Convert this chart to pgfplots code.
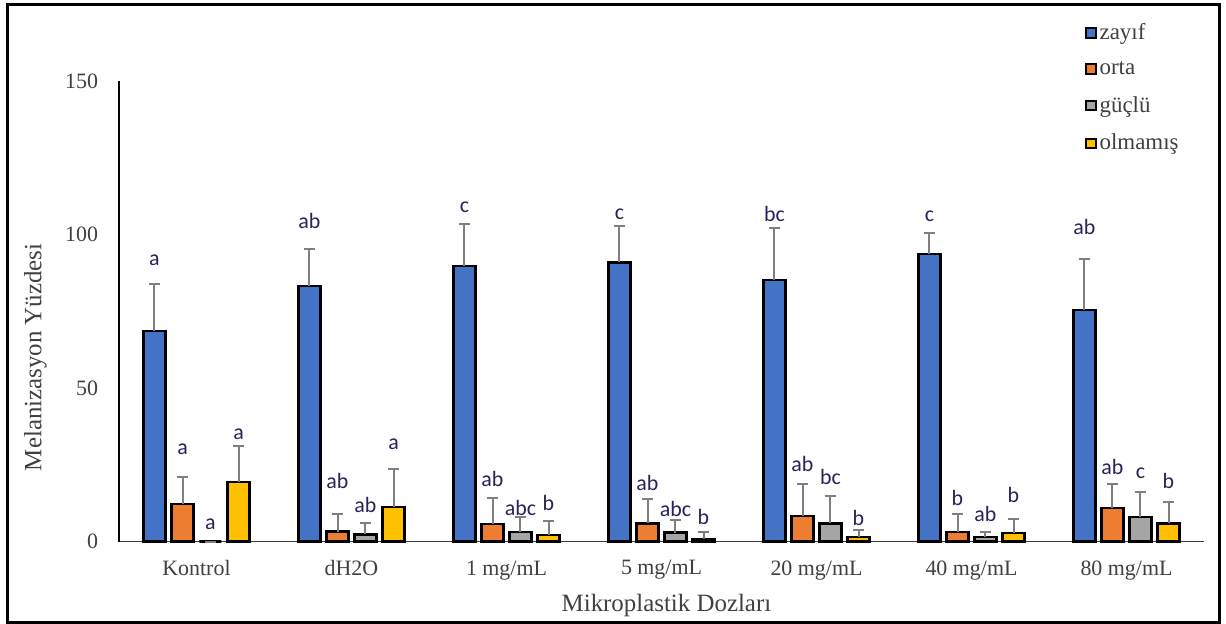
\documentclass[border=0pt]{standalone}
\usepackage{pgfplots}
\usepackage{pgfplotstable}
\pgfplotsset{compat=1.18}
\usepackage{fontspec}
\setmainfont{Liberation Serif}
\newfontfamily\calibri{Carlito}
\definecolor{cBlue}{RGB}{68,114,196}
\definecolor{cOrange}{RGB}{237,125,49}
\definecolor{cGray}{RGB}{165,165,165}
\definecolor{cYellow}{RGB}{255,192,0}
\definecolor{txt}{RGB}{64,64,64}
\definecolor{lett}{RGB}{40,35,90}
\definecolor{errc}{RGB}{127,127,127}

\pgfplotstableread{
x y err ly lbl
0 68.6 15.3 92.4 a
1 83.2 12.0 104.5 ab
2 89.7 13.6 109.7 c
3 90.9 11.9 107.2 c
4 85.2 16.8 106.6 bc
5 93.6 7.0 106.6 c
6 75.4 16.7 102.3 ab
}\zayif
\pgfplotstableread{
x y err ly lbl
0 12.2 8.7 30.7 a
1 3.2 5.8 19.8 ab
2 5.7 8.6 20.2 ab
3 5.9 7.9 19.0 ab
4 8.4 10.2 25.3 ab
5 3.0 5.9 14.2 b
6 11.0 7.6 24.4 ab
}\orta
\pgfplotstableread{
x y err ly lbl
0 0.0 0.0 6.3 a
1 2.3 3.6 12.0 ab
2 3.0 5.1 11.0 abc
3 2.9 4.1 10.7 abc
4 5.9 9.0 20.9 bc
5 1.4 1.8 9.0 ab
6 7.9 8.1 23.1 c
}\guclu
\pgfplotstableread{
x y err ly lbl
0 19.3 11.9 35.6 a
1 11.3 12.2 32.3 a
2 2.1 4.7 12.4 b
3 0.8 2.3 8.1 b
4 1.4 2.3 7.7 b
5 2.7 4.5 15.0 b
6 5.9 7.1 19.8 b
}\olmamis

\pgfplotsset{
  mybar/.style={ybar, bar width=11bp, mark=none, draw=black, line width=1.2bp},
  myerr/.style={draw=none, mark=none, forget plot,
    error bars/.cd, y dir=plus, y explicit, error mark=-,
    error bar style={draw=errc, line width=1bp},
    error mark options={draw=errc, line width=1bp, mark size=2.6bp, rotate=90},
    /pgfplots/.cd},
  mylbl/.style={draw=none, mark=none, forget plot, nodes near coords,
    point meta=explicit symbolic,
    every node near coord/.append style={anchor=south, inner sep=0pt, yshift=-4bp,
      font=\calibri\fontsize{11}{13}\selectfont, text=lett}},
}

\begin{document}
\begin{tikzpicture}
\useasboundingbox (0,0) rectangle (613bp,312bp);
\begin{axis}[
  at={(59.5bp,41.25bp)}, anchor=south west,
  scale only axis, width=542.5bp, height=230.25bp,
  xmin=-0.5, xmax=6.5, ymin=0, ymax=150,
  clip=false,
  axis x line=bottom, axis y line=left,
  axis line style={-},
  x axis line style={draw=txt, line width=0.8bp},
  y axis line style={draw=black, line width=0.8bp},
  xtick={0,1,2,3,4,5,6},
  xticklabels={Kontrol,dH2O,1 mg/mL,5 mg/mL,20 mg/mL,40 mg/mL,80 mg/mL},
  ytick={0,50,100,150},
  major tick length=0pt,
  /pgf/number format/assume math mode=true,
  tick label style={font=\fontsize{11}{13}\selectfont, text=txt},
  xticklabel style={yshift=-6bp},
  yticklabel style={xshift=-7bp},
  xlabel={Mikroplastik Dozları},
  ylabel={Melanizasyon Yüzdesi},
  label style={font=\fontsize{12.5}{15}\selectfont, text=txt},
  xlabel style={at={(axis description cs:0.5046,-0.138)}, anchor=center},
  ylabel style={at={(axis description cs:-0.060,0.40)}, anchor=south},
  legend style={at={(axis description cs:0.890,1.133)}, anchor=north west,
    draw=none, fill=none, font=\fontsize{11.5}{13}\selectfont, text=txt,
    row sep=6.5bp, inner sep=0pt, nodes={inner sep=1.5bp}},
  legend cell align=left,
  legend image code/.code={\draw[#1, line width=1bp] (0bp,-2.4bp) rectangle (4.8bp,2.4bp);},
]
\addplot[mybar, fill=cBlue, bar shift=-21bp] table[x=x, y=y] {\zayif};
\addplot[mybar, fill=cOrange, bar shift=-7bp] table[x=x, y=y] {\orta};
\addplot[mybar, fill=cGray, bar shift=7bp] table[x=x, y=y] {\guclu};
\addplot[mybar, fill=cYellow, bar shift=21bp] table[x=x, y=y] {\olmamis};
\legend{zayıf,orta,güçlü,olmamış}
\addplot[myerr] table[x expr=\thisrow{x}-0.271, y=y, y error=err] {\zayif};
\addplot[myerr] table[x expr=\thisrow{x}-0.0903, y=y, y error=err] {\orta};
\addplot[myerr] table[x expr=\thisrow{x}+0.0903, y=y, y error=err] {\guclu};
\addplot[myerr] table[x expr=\thisrow{x}+0.271, y=y, y error=err] {\olmamis};
\addplot[mylbl] table[x expr=\thisrow{x}-0.271, y=ly, meta=lbl] {\zayif};
\addplot[mylbl] table[x expr=\thisrow{x}-0.0903, y=ly, meta=lbl] {\orta};
\addplot[mylbl] table[x expr=\thisrow{x}+0.0903, y=ly, meta=lbl] {\guclu};
\addplot[mylbl] table[x expr=\thisrow{x}+0.271, y=ly, meta=lbl] {\olmamis};
\end{axis}
\draw[line width=1.5bp] (3.5bp,0.75bp) rectangle (609.5bp,309.5bp);
\end{tikzpicture}
\end{document}
